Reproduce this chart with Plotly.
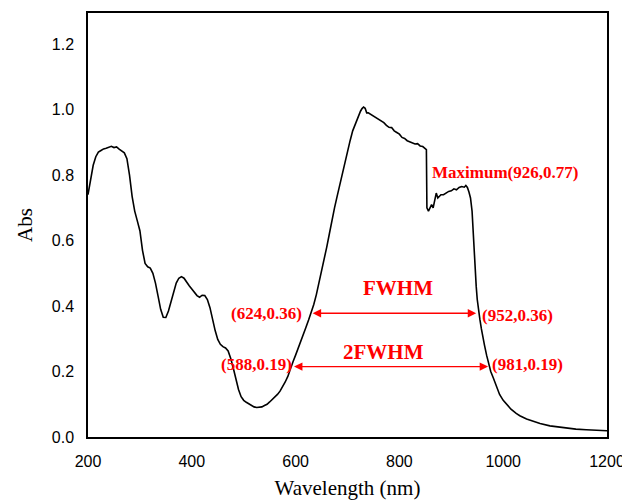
import plotly.graph_objects as go

# ---- spectrum data ----
wavelength = [200, 205, 210, 215, 220, 225, 230, 235, 240, 245, 250, 255, 260, 265, 270, 275, 280, 285, 290, 295,
              300, 305, 310, 315, 320, 325, 330, 335, 340, 345, 350, 355, 360, 365, 370, 375, 380, 385, 390, 395,
              400, 405, 410, 415, 420, 425, 430, 435, 440, 445, 450, 455, 460, 465, 470, 475, 480, 485, 490, 495,
              500, 505, 510, 515, 520, 525, 530, 535, 540, 545, 550, 555, 560, 565, 570, 575, 580, 585, 590, 595,
              600, 605, 610, 615, 620, 625, 630, 635, 640, 645, 650, 655, 660, 665, 670, 675, 680, 685, 690, 695,
              700, 705, 710, 715, 720, 725, 728, 731, 734, 737, 740, 745, 750, 755, 760, 765, 770, 775, 780, 785,
              790, 795, 800, 805, 810, 815, 820, 825, 830, 835, 840, 845, 850, 852, 853, 856, 859, 862, 865, 868,
              871, 874, 877, 880, 885, 890, 895, 900, 905, 910, 915, 920, 925, 928, 931, 934, 937, 940, 942, 944,
              946, 948, 950, 952, 955, 958, 961, 964, 968, 972, 976, 981, 987, 993, 1000, 1006, 1015, 1025, 1032, 1045,
              1060, 1071, 1090, 1110, 1122, 1140, 1160, 1180, 1200]
absorbance = [0.74, 0.78, 0.83, 0.856, 0.87, 0.875, 0.88, 0.882, 0.885, 0.888, 0.884, 0.886, 0.879, 0.873, 0.868, 0.85, 0.80, 0.735, 0.69, 0.66,
              0.63, 0.57, 0.53, 0.52, 0.516, 0.50, 0.47, 0.43, 0.39, 0.366, 0.365, 0.385, 0.415, 0.445, 0.47, 0.485, 0.49, 0.485, 0.472, 0.462,
              0.452, 0.443, 0.432, 0.427, 0.433, 0.432, 0.42, 0.395, 0.357, 0.325, 0.298, 0.283, 0.276, 0.272, 0.263, 0.24, 0.21, 0.174, 0.145, 0.123,
              0.112, 0.106, 0.101, 0.095, 0.092, 0.09, 0.09, 0.092, 0.096, 0.10, 0.107, 0.114, 0.12, 0.13, 0.14, 0.152, 0.168, 0.185, 0.21, 0.23,
              0.25, 0.27, 0.293, 0.315, 0.335, 0.357, 0.378, 0.405, 0.435, 0.47, 0.50, 0.545, 0.58, 0.62, 0.665, 0.70, 0.735, 0.77, 0.81, 0.845,
              0.88, 0.905, 0.935, 0.955, 0.98, 0.995, 1.003, 1.008, 1.004, 0.99, 0.99, 0.985, 0.978, 0.975, 0.968, 0.963, 0.96, 0.952, 0.946, 0.945,
              0.935, 0.93, 0.925, 0.915, 0.912, 0.905, 0.902, 0.90, 0.895, 0.896, 0.889, 0.887, 0.882, 0.878, 0.70, 0.69, 0.70, 0.71, 0.70, 0.72,
              0.745, 0.73, 0.735, 0.74, 0.74, 0.745, 0.75, 0.752, 0.758, 0.755, 0.762, 0.765, 0.763, 0.768, 0.762, 0.748, 0.73, 0.69, 0.62, 0.55,
              0.50, 0.46, 0.42, 0.39, 0.36, 0.33, 0.30, 0.28, 0.25, 0.22, 0.20, 0.18, 0.155, 0.13, 0.112, 0.10, 0.085, 0.072, 0.065, 0.055,
              0.046, 0.041, 0.034, 0.030, 0.027, 0.024, 0.022, 0.020, 0.019]

# ---- annotation texts and their anchor values ----
label_texts = ["Maximum(926,0.77)", "FWHM", "2FWHM", "(624,0.36)", "(952,0.36)", "(588,0.19)", "(981,0.19)"]
label_x = [1003, 798, 769, 543, 1028, 524, 1047]
label_y = [0.809, 0.456, 0.26, 0.377, 0.371, 0.221, 0.22]
label_size = [17, 21, 21, 17, 17, 17, 17]

# double arrows: (start x, end x, y)
arrow_x0 = [630, 594]
arrow_x1 = [948, 971]
arrow_y = [0.378, 0.215]

fig = go.Figure()
fig.add_trace(go.Scatter(x=wavelength, y=absorbance, mode="lines",
                         line=dict(color="black", width=1.6), showlegend=False,
                         hoverinfo="skip"))

annotations = []
for t, x, y, s in zip(label_texts, label_x, label_y, label_size):
    annotations.append(dict(x=x, y=y, xref="x", yref="y", text=f"<b>{t}</b>", showarrow=False,
                            font=dict(family="Liberation Serif", size=s, color="#ff0000"),
                            xanchor="center", yanchor="middle"))
for x0, x1, y in zip(arrow_x0, arrow_x1, arrow_y):
    annotations.append(dict(x=x1, y=y, ax=x0, ay=y, xref="x", yref="y", axref="x", ayref="y",
                            text="", showarrow=True, arrowside="end+start", arrowhead=2,
                            arrowsize=1.3, arrowwidth=1.3, arrowcolor="#ff0000"))

fig.update_layout(
    width=630, height=501,
    margin=dict(l=80, r=31, t=5, b=72),
    paper_bgcolor="white", plot_bgcolor="white",
    annotations=annotations,
    xaxis=dict(range=[200, 1200], tickvals=[200, 400, 600, 800, 1000, 1200],
               showgrid=False, zeroline=False, showline=True, mirror=True, automargin=False,
               linecolor="black", linewidth=1.5, ticks="", ticklabelstandoff=9,
               tickfont=dict(family="Liberation Sans", size=16, color="black"),
               title=dict(text="Wavelength (nm)", standoff=11,
                          font=dict(family="Liberation Serif", size=21, color="black"))),
    yaxis=dict(range=[0, 1.295], tickvals=[0, 0.2, 0.4, 0.6, 0.8, 1.0, 1.2], tickformat=".1f",
               showgrid=False, zeroline=False, showline=True, mirror=True, automargin=False,
               linecolor="black", linewidth=1.5, ticks="", ticklabelstandoff=9,
               tickfont=dict(family="Liberation Sans", size=16, color="black"),
               title=dict(text="Abs", standoff=13,
                          font=dict(family="Liberation Serif", size=21, color="black"))),
)

fig.write_html("out.html")
